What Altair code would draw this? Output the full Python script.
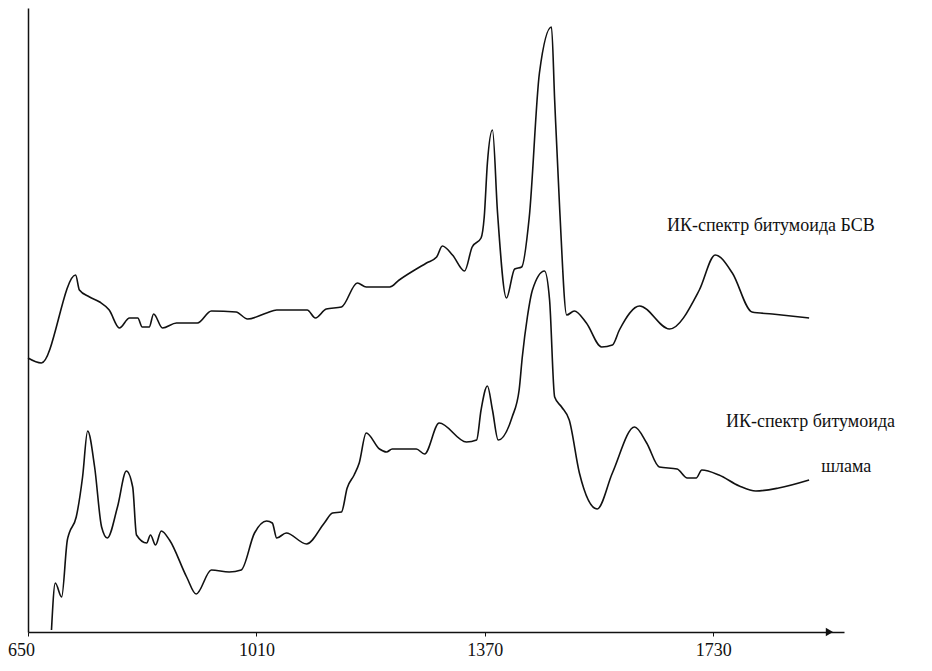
import altair as alt
import pandas as pd

# Upper spectrum (битумоид БСВ): wavenumber, relative intensity
upper_wn = [650, 671, 725, 731, 747, 763, 778, 794, 810, 823, 830, 841, 848, 862, 884, 917,
            939, 978, 996, 1026, 1042, 1090, 1103, 1120, 1144, 1169, 1183, 1220, 1235, 1278,
            1294, 1303, 1319, 1338, 1350, 1364, 1369, 1374, 1382, 1390, 1404, 1417, 1428,
            1440, 1456, 1475, 1480, 1488, 1499, 1511, 1530, 1554, 1571, 1582, 1614, 1661,
            1708, 1733, 1760, 1791, 1823, 1881]
upper_int = [274, 269, 357, 342, 335, 330, 322, 304, 314, 314, 305, 305, 318, 304, 309, 309,
             321, 320, 313, 319, 322, 322, 314, 323, 325, 349, 345, 345, 352, 369,
             375, 386, 377, 361, 385, 394, 415, 469, 502, 419, 334, 363, 365,
             415, 559, 605, 532, 422, 317, 321, 309, 285, 287, 302, 326, 303,
             342, 377, 359, 320, 318, 314]

# Lower spectrum (битумоид шлама)
lower_wn = [687, 693, 703, 712, 715, 726, 736, 744, 755, 766, 775, 791, 805, 815, 821, 837,
            843, 851, 860, 873, 900, 915, 939, 967, 986, 1007, 1026, 1035, 1042, 1057,
            1089, 1117, 1130, 1144, 1153, 1164, 1172, 1183, 1204, 1215, 1224, 1262, 1275,
            1298, 1341, 1357, 1364, 1374, 1382, 1391, 1413, 1424, 1429, 1437, 1445, 1464,
            1472, 1480, 1491, 1503, 1519, 1547, 1571, 1606, 1625, 1645, 1673, 1689, 1703,
            1712, 1739, 1771, 1797, 1833, 1881]
lower_int = [2, 49, 35, 92, 99, 115, 155, 201, 165, 105, 94, 125, 161, 145, 97, 89,
             97, 87, 101, 92, 55, 38, 62, 60, 62, 99, 111, 109, 94, 99,
             88, 109, 119, 120, 144, 157, 169, 199, 183, 180, 183, 183, 178,
             209, 190, 192, 222, 246, 222, 192, 215, 242, 275, 315, 342, 361,
             332, 235, 225, 212, 159, 123, 159, 205, 189, 165, 163, 154, 154,
             162, 157, 146, 141, 144, 152]

tick_values = [650, 1010, 1370, 1730]
x_min, x_max = 650, 1936
y_min, y_max = 0, 624
arrow_wn = 1913

label_text = ["ИК-спектр битумоида БСВ", "ИК-спектр битумоида", "шлама"]
label_wn = [1657, 1750, 1900]
label_int = [406, 210, 165]

spectra = pd.concat([
    pd.DataFrame({"wn": upper_wn, "val": upper_int, "series": "БСВ"}),
    pd.DataFrame({"wn": lower_wn, "val": lower_int, "series": "шлам"}),
])
labels = pd.DataFrame({"wn": label_wn, "val": label_int, "text": label_text})
arrow = pd.DataFrame({"wn": [arrow_wn], "val": [y_min]})

ink = "#111111"
serif = "Liberation Serif"

x_enc = alt.X(
    "wn:Q",
    scale=alt.Scale(domain=[x_min, x_max], nice=False, zero=False),
    axis=alt.Axis(
        values=tick_values, title=None, grid=False, format="d",
        domainColor=ink, domainWidth=1.5,
        tickColor=ink, tickSize=4, tickWidth=1,
        labelFont=serif, labelFontSize=18, labelColor=ink, labelPadding=5,
        labelOffset={"expr": "datum.value == 650 ? -7 : 0"},
        labelFlush=False, labelOverlap=False,
    ),
)
y_enc = alt.Y(
    "val:Q",
    scale=alt.Scale(domain=[y_min, y_max], nice=False, zero=False),
    axis=alt.Axis(title=None, labels=False, ticks=False, grid=False,
                  domainColor=ink, domainWidth=1.5),
)

lines = alt.Chart(spectra).mark_line(
    color=ink, strokeWidth=1.6, interpolate="monotone"
).encode(x=x_enc, y=y_enc, detail="series:N")

texts = alt.Chart(labels).mark_text(
    font=serif, fontSize=18, color=ink, align="left", baseline="middle"
).encode(x="wn:Q", y="val:Q", text="text:N")

arrow_mark = alt.Chart(arrow).mark_point(
    shape="triangle-right", filled=True, size=70, color=ink, opacity=1
).encode(x="wn:Q", y="val:Q")

chart = alt.layer(lines, texts, arrow_mark).properties(
    width=816, height=624,
    autosize=alt.AutoSizeParams(type="none"),
    padding={"left": 20, "top": 0, "right": 80, "bottom": 32},
    background="white",
).configure_view(stroke=None)

chart.save("out.html", embed_options={"renderer": "svg", "actions": False})
